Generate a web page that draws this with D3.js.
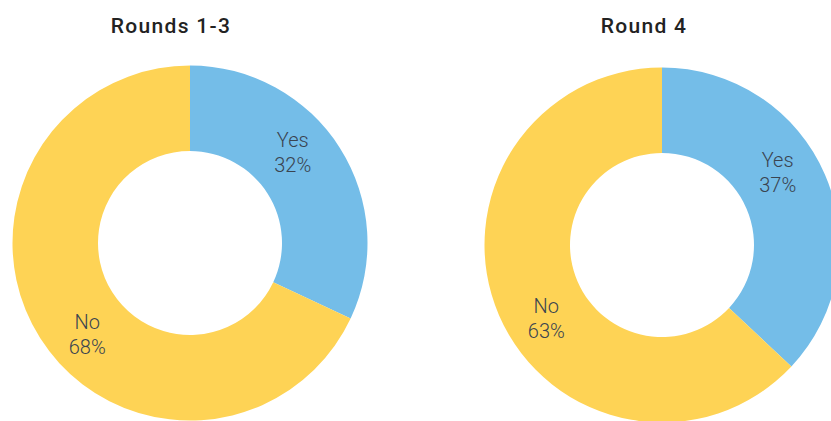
<!DOCTYPE html>
<html>
<head>
<meta charset="utf-8">
<script src="https://cdn.jsdelivr.net/npm/d3@7"></script>
<style>
  body { margin: 0; background: #fff; }
  svg { display: block; font-family: Roboto, "Noto Sans", sans-serif; }
</style>
</head>
<body>
<svg id="chart" width="831" height="421"></svg>
<script>
var titles = ["Rounds 1-3", "Round 4"];
var answers = ["Yes", "No"];
var shares = [[32, 68], [37, 63]];
var colors = ["#74bde8", "#fed355"];

var svg = d3.select("#chart");

// one donut per round
var centers = [{x: 190, y: 243, title: 171}, {x: 662, y: 245, title: 644}];
var outerR = 177.5, innerR = 92, labelR = 137;
var labelTurn = -9 * Math.PI / 180; // labels sit a bit anticlockwise of the mid angle

var pie = d3.pie().sort(null).value(function(d) { return d; });
var arc = d3.arc().innerRadius(innerR).outerRadius(outerR);
var color = d3.scaleOrdinal().domain(answers).range(colors);

function labelPos(d) {
  var a = (d.startAngle + d.endAngle) / 2 + labelTurn;
  return [labelR * Math.sin(a), -labelR * Math.cos(a)];
}

titles.forEach(function(t, i) {
  var c = centers[i];

  svg.append("text")
    .attr("x", c.title)
    .attr("y", 33)
    .attr("text-anchor", "middle")
    .attr("font-size", "21px")
    .attr("font-weight", 500)
    .attr("letter-spacing", "1.3px")
    .attr("fill", "#222")
    .text(t);

  var g = svg.append("g")
    .attr("transform", "translate(" + c.x + "," + c.y + ")");

  var slices = pie(shares[i]);

  g.selectAll("path")
    .data(slices)
    .enter()
    .append("path")
    .attr("d", arc)
    .attr("fill", function(d, j) { return color(answers[j]); });

  var lbl = g.selectAll("text.lbl")
    .data(slices)
    .enter()
    .append("text")
    .attr("class", "lbl")
    .attr("transform", function(d) { return "translate(" + labelPos(d) + ")"; })
    .attr("text-anchor", "middle")
    .attr("font-size", "20px")
    .attr("font-weight", 300)
    .attr("fill", "#3a4450");

  lbl.append("tspan")
    .attr("x", 0)
    .attr("y", -5)
    .text(function(d, j) { return answers[j]; });

  lbl.append("tspan")
    .attr("x", 0)
    .attr("y", 20)
    .text(function(d) { return d.data + "%"; });
});
</script>
</body>
</html>
